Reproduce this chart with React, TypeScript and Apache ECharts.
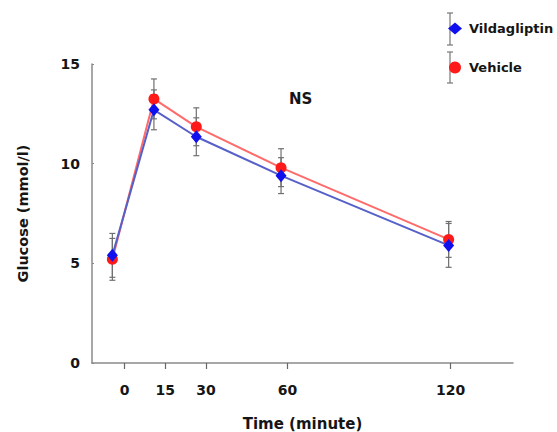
import React, { useEffect, useRef } from "react";
import * as echarts from "echarts";

// data
const tickTimes = [0, 15, 30, 60, 120];
const plotTimes = [-4.5, 10.8, 26.4, 57.6, 119.3];
const vildaMean = [5.4, 12.7, 11.35, 9.4, 5.9];
const vildaErr = [1.1, 1.0, 0.95, 0.9, 1.1];
const vehicleMean = [5.2, 13.25, 11.85, 9.8, 6.2];
const vehicleErr = [1.05, 1.0, 0.95, 0.95, 0.9];

const FONT = "DejaVu Sans, Verdana, sans-serif";
const TXT = "#151515";

function errData(means: number[], errs: number[]) {
  return plotTimes.map((t, i) => [t, means[i] - errs[i], means[i] + errs[i]]);
}

function renderErr(params: any, api: any) {
  const x = api.value(0);
  const lo = api.coord([x, api.value(1)]);
  const hi = api.coord([x, api.value(2)]);
  const w = 3;
  const style = { stroke: "#707070", lineWidth: 1.2 };
  return {
    type: "group",
    children: [
      { type: "line", shape: { x1: lo[0], y1: lo[1], x2: hi[0], y2: hi[1] }, style },
      { type: "line", shape: { x1: lo[0] - w, y1: lo[1], x2: lo[0] + w, y2: lo[1] }, style },
      { type: "line", shape: { x1: hi[0] - w, y1: hi[1], x2: hi[0] + w, y2: hi[1] }, style },
    ],
  };
}

export default function App() {
  const ref = useRef<HTMLDivElement>(null);
  useEffect(() => {
    document.body.style.margin = "0";
    if (!ref.current) return;
    const chart = echarts.init(ref.current, null, { renderer: "svg" });
    const errStyle = { stroke: "#777", lineWidth: 1.2 };
    chart.setOption({
      animation: false,
      backgroundColor: "#ffffff",
      textStyle: { fontFamily: FONT },
      title: {
        text: "NS",
        left: 289,
        top: 91,
        padding: 0,
        textStyle: { fontSize: 15, fontWeight: "bold", color: TXT, fontFamily: FONT },
      },
      legend: {
        data: [
          { name: "Vildagliptin", icon: "diamond" },
          { name: "Vehicle", icon: "circle" },
        ],
        orient: "vertical",
        left: 443,
        top: 17,
        itemWidth: 14,
        itemHeight: 12,
        itemGap: 26,
        selectedMode: false,
        textStyle: { fontSize: 13, fontWeight: "bold", color: TXT, fontFamily: FONT, padding: [0, 0, 0, 2] },
      },
      graphic: [
        { type: "line", shape: { x1: 450, y1: 13, x2: 450, y2: 45 }, style: errStyle, z: 0 },
        { type: "line", shape: { x1: 447, y1: 13, x2: 453, y2: 13 }, style: errStyle, z: 0 },
        { type: "line", shape: { x1: 447, y1: 45, x2: 453, y2: 45 }, style: errStyle, z: 0 },
        { type: "line", shape: { x1: 450, y1: 52, x2: 450, y2: 83 }, style: errStyle, z: 0 },
        { type: "line", shape: { x1: 447, y1: 52, x2: 453, y2: 52 }, style: errStyle, z: 0 },
        { type: "line", shape: { x1: 447, y1: 83, x2: 453, y2: 83 }, style: errStyle, z: 0 },
      ],
      grid: { left: 92, right: 44, top: 64, bottom: 69, containLabel: false, outerBoundsMode: "none" },
      xAxis: {
        type: "value",
        min: -12,
        max: 143,
        name: "Time (minute)",
        nameLocation: "middle",
        nameGap: 53,
        nameTextStyle: { fontSize: 15, fontWeight: "bold", color: TXT, fontFamily: FONT },
        splitLine: { show: false },
        axisLine: { onZero: false, lineStyle: { color: "#8a8a8a", width: 1.5 } },
        axisTick: { customValues: tickTimes, length: 6, lineStyle: { color: "#666", width: 1.2 } },
        axisLabel: {
          customValues: tickTimes,
          margin: 20,
          fontSize: 14,
          fontWeight: "bold",
          color: TXT,
          fontFamily: FONT,
        },
      },
      yAxis: {
        type: "value",
        min: 0,
        max: 15,
        interval: 5,
        name: "Glucose (mmol/l)",
        nameLocation: "middle",
        nameGap: 62,
        nameTextStyle: { fontSize: 14.5, fontWeight: "bold", color: TXT, fontFamily: FONT },
        splitLine: { show: false },
        axisLine: { show: true, onZero: false, lineStyle: { color: "#8a8a8a", width: 1.5 } },
        axisTick: { show: true, inside: true, length: 2, lineStyle: { color: "#888" } },
        axisLabel: { margin: 12, fontSize: 14, fontWeight: "bold", color: TXT, fontFamily: FONT },
      },
      series: [
        {
          type: "custom",
          name: "vehicleErr",
          renderItem: renderErr,
          data: errData(vehicleMean, vehicleErr),
          z: 3,
          silent: true,
        },
        {
          type: "custom",
          name: "vildaErr",
          renderItem: renderErr,
          data: errData(vildaMean, vildaErr),
          z: 3,
          silent: true,
        },
        {
          type: "line",
          name: "Vehicle",
          data: plotTimes.map((t, i) => [t, vehicleMean[i]]),
          symbol: "circle",
          symbolSize: 11,
          itemStyle: { color: "#ff1a1a" },
          lineStyle: { color: "#ff6a6a", width: 2 },
          z: 4,
        },
        {
          type: "line",
          name: "Vildagliptin",
          data: plotTimes.map((t, i) => [t, vildaMean[i]]),
          symbol: "diamond",
          symbolSize: [11, 13],
          itemStyle: { color: "#1010ee" },
          lineStyle: { color: "#5560c8", width: 2 },
          z: 5,
        },
      ],
    });
    return () => chart.dispose();
  }, []);
  return <div ref={ref} style={{ width: 557, height: 432 }} />;
}
